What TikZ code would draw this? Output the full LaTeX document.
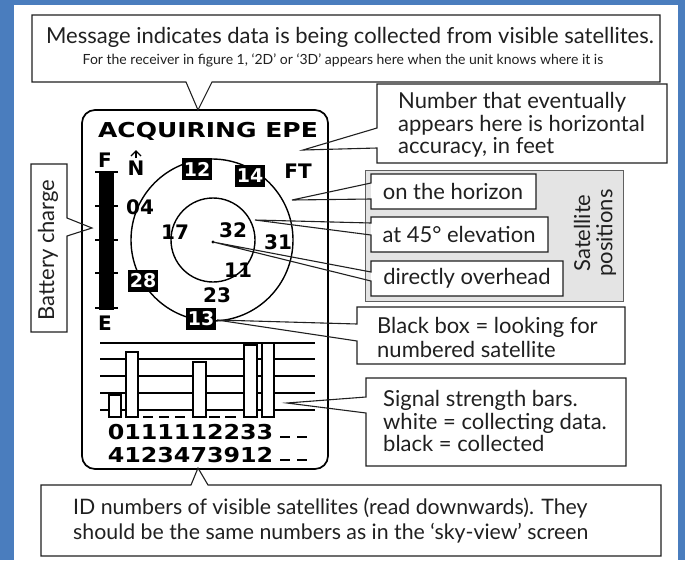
\documentclass[tikz,border=0pt]{standalone}
\usepackage{fontspec}
\setmainfont{Lato}
\newfontfamily\lcd{DejaVu Sans}
\usepackage{graphicx}
\definecolor{bgblue}{RGB}{74,125,190}
\definecolor{ink}{RGB}{32,32,32}
\definecolor{panelgray}{RGB}{228,228,228}
\begin{document}
\begin{tikzpicture}[x=1pt,y=-1pt,
  callout/.style={draw=ink, line width=1.1pt, line join=miter},
  ctext/.style={font=\fontsize{22}{22.3}\selectfont, text=ink, inner sep=0pt, align=left},
  lcdtxt/.style={font=\lcd\bfseries\fontsize{20}{20}\selectfont, inner sep=0pt, text=black},
  satbox/.style={fill=black, text=white, font=\lcd\bfseries\fontsize{19}{19}\selectfont, minimum width=30pt, minimum height=22pt, inner sep=0pt},
  dev/.style={line width=1.7pt, draw=black},
  thinline/.style={line width=1.4pt, draw=black},
  barbox/.style={line width=1.3pt, draw=black, fill=white}
]
\useasboundingbox (0,0) rectangle (685,560);
\fill[bgblue] (0,0) rectangle (685,560);
\fill[white] (14,5) rectangle (678,560);

% ---------- device ----------
\draw[dev, rounded corners=13pt] (82,110) rectangle (328,469);
\node[lcdtxt, font=\lcd\bfseries\fontsize{20.5}{20.5}\selectfont] (acq) at (208,131) {\scalebox{1.22}[1]{ACQUIRING EPE}};

% battery
\node[lcdtxt] (full) at (105,160) {F};
\node[lcdtxt] (empty) at (105,323) {E};
\fill[black] (99,172) rectangle (114,310);
\foreach \t in {172,206,240,273,308} \draw[line width=1.5pt] (95,\t) -- (118,\t);

% north
\node[lcdtxt] (north) at (136,168) {N};
\draw[line width=1.3pt] (131,156) -- (136,151) -- (141,156);
\draw[line width=1.3pt] (136,151) -- (136,158);
\node[lcdtxt] (ft) at (298,171) {FT};

% sky view
\draw[thinline] (212,240) circle[radius=81];
\draw[thinline] (213,240) circle[radius=42];
\coordinate (ctr) at (213,242);
\fill (ctr) circle[radius=1.6];
\node[lcdtxt] (s04) at (140,207) {04};
\node[lcdtxt] (s17) at (175,232) {17};
\node[lcdtxt] (s32) at (233,230) {32};
\node[lcdtxt] (s31) at (278,242) {31};
\node[lcdtxt] (s11) at (238,270) {11};
\node[lcdtxt] (s23) at (217,295) {23};
\node[satbox] (s12) at (197,169) {12};
\node[satbox] (s14) at (250,176) {14};
\node[satbox] (s28) at (143,281) {28};
\node[satbox] (s13) at (201,319) {13};

% signal bars
\foreach \t in {343,359,376,393,410} \draw[thinline] (100,\t) -- (315,\t);
\foreach \a/\b/\c in {109/121/395,126/138/352,193/206/362,244/257/345,262/274/343}
  \draw[barbox] (\a,\c) rectangle (\b,417);
\foreach \a/\b in {143/153,159/169,175/185,209/220,225/236}
  \draw[line width=1.4pt] (\a,417) -- (\b,417);
\node[lcdtxt, font=\lcd\bfseries\fontsize{20.5}{20.5}\selectfont] (row1) at (190.5,432) {\scalebox{1.16}[1]{0111112233}};
\node[lcdtxt, font=\lcd\bfseries\fontsize{20.5}{20.5}\selectfont] (row2) at (190.5,455) {\scalebox{1.16}[1]{4123473912}};
\foreach \a/\b in {280/290,297/307} {
  \draw[line width=1.6pt] (\a,437) -- (\b,437);
  \draw[line width=1.6pt] (\a,460) -- (\b,460);
}

% ---------- callouts ----------
% top message
\coordinate (tipTop) at (198,110);
\fill[white] (32,15) rectangle (660,82);
\draw[callout] (212,82) -- (660,82) -- (660,15) -- (32,15) -- (32,82) -- (186,82) -- (tipTop) -- cycle;
\node[ctext] (msg1) at (350,37) {Message indicates data is being collected from visible satellites.};
\node[ctext, font=\fontsize{14}{15}\selectfont] (msg2) at (343,60) {For the receiver in figure 1, ‘2D’ or ‘3D’ appears here when the unit knows where it is};

% horizontal accuracy
\coordinate (tipN) at (303,150);
\fill[white] (377,84) rectangle (667,163);
\draw[callout] (377,148) -- (377,163) -- (667,163) -- (667,84) -- (377,84) -- (377,128) -- (tipN) -- cycle;
\node[ctext, anchor=west] (numtxt) at (398,125) {Number that eventually\\appears here is horizontal\\accuracy, in feet};

% satellite positions panel
\draw[draw=gray!75!black, fill=panelgray, line width=1pt] (365,170) rectangle (623,301);
\node[ctext, align=center, rotate=90] (satpos) at (595,233) {Satellite\\positions};

\coordinate (tipH) at (292,200);
\fill[white] (371,174) rectangle (536,209);
\draw[callout] (371,199) -- (371,209) -- (536,209) -- (536,174) -- (371,174) -- (371,183) -- (tipH) -- cycle;
\node[ctext] (horiz) at (453,191) {on the horizon};

\coordinate (tip45) at (255,220);
\fill[white] (371,217) rectangle (548,252);
\draw[callout] (371,235) -- (371,252) -- (548,252) -- (548,217) -- (371,217) -- (371,223) -- (tip45) -- cycle;
\node[ctext] (elev) at (459,234) {at 45° elevation};

\fill[white] (371,261) rectangle (563,296);
\draw[callout] (371,281) -- (371,296) -- (563,296) -- (563,261) -- (371,261) -- (371,272) -- (ctr) -- cycle;
\node[ctext] (over) at (467,278) {directly overhead};

% black box
\coordinate (tipB) at (217,320);
\fill[white] (357,307) rectangle (625,364);
\draw[callout] (357,341) -- (357,364) -- (625,364) -- (625,307) -- (357,307) -- (357,324) -- (tipB) -- cycle;
\node[ctext, anchor=west, font=\fontsize{22}{24}\selectfont] (blk) at (377,337) {Black box = looking for\\numbered satellite};

% signal strength
\coordinate (tipS) at (287,403);
\fill[white] (366,378) rectangle (626,466);
\draw[callout] (366,413) -- (366,466) -- (626,466) -- (626,378) -- (366,378) -- (366,397) -- (tipS) -- cycle;
\node[ctext, anchor=west] (sig) at (383,421) {Signal strength bars.\\white = collecting data.\\black = collected};

% battery charge
\coordinate (tipBat) at (92,228);
\fill[white] (31,164) rectangle (67,332);
\draw[callout] (67,236) -- (67,332) -- (31,332) -- (31,164) -- (67,164) -- (67,218) -- (tipBat) -- cycle;
\node[ctext, rotate=90] (bat) at (48,250) {Battery charge};

% ID numbers
\coordinate (tipID) at (198,468);
\fill[white] (41,485) rectangle (661,556);
\draw[callout] (208,485) -- (661,485) -- (661,556) -- (41,556) -- (41,485) -- (191,485) -- (tipID) -- cycle;
\node[ctext, anchor=west, font=\fontsize{21.3}{25}\selectfont] (idtxt) at (73,521) {ID numbers of visible satellites (read downwards). They\\should be the same numbers as in the ‘sky-view’ screen};
\end{tikzpicture}
\end{document}
